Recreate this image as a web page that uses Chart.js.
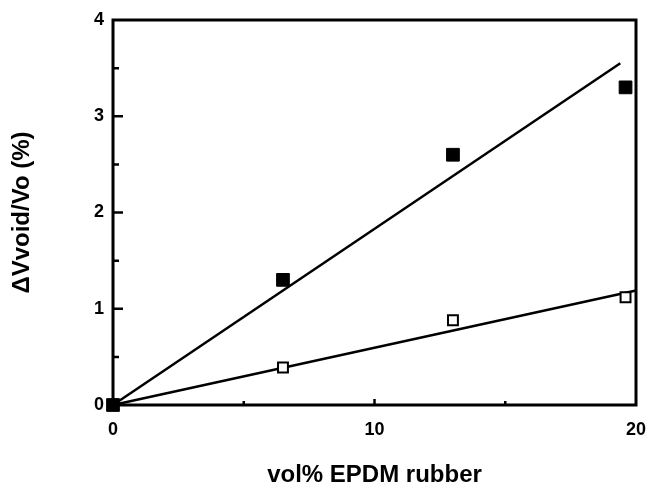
<!DOCTYPE html>
<html>
<head>
<meta charset="utf-8">
<script src="https://cdn.jsdelivr.net/npm/chart.js@4"></script>
<style>
  html, body { margin: 0; padding: 0; background: #fff; }
  #wrap { width: 646px; height: 487px; }
</style>
</head>
<body>
<div id="wrap"><canvas id="chart"></canvas></div>
<script>
const rubberVol = [0, 6.5, 13, 19.6]
const voidFilled = [0, 1.3, 2.6, 3.3]
const voidOpen = [0, 0.39, 0.88, 1.12]
const fitFilledX = [0, 19.4]
const fitFilledY = [0, 3.55]
const fitOpenX = [0, 20]
const fitOpenY = [0, 1.19]
const yMajorTicks = [1, 2, 3]
const yMinorTicks = [0.5, 1.5, 2.5, 3.5]
const xMajorTicks = [10]
const xMinorTicks = [5, 15]

const toPoints = (xs, ys) => xs.map((x, i) => ({ x: x, y: ys[i] }))

// box round the plot and the short inward tick marks
const frame = {
  id: 'frame',
  afterDraw(chart) {
    const { ctx, chartArea: a, scales } = chart
    ctx.save()
    ctx.strokeStyle = '#000'
    ctx.lineWidth = 3
    ctx.strokeRect(a.left, a.top, a.right - a.left, a.bottom - a.top)
    ctx.lineWidth = 2.5
    ctx.beginPath()
    yMajorTicks.forEach(v => {
      const y = scales.y.getPixelForValue(v)
      ctx.moveTo(a.left, y); ctx.lineTo(a.left + 10, y)
    })
    yMinorTicks.forEach(v => {
      const y = scales.y.getPixelForValue(v)
      ctx.moveTo(a.left, y); ctx.lineTo(a.left + 6, y)
    })
    xMajorTicks.forEach(v => {
      const x = scales.x.getPixelForValue(v)
      ctx.moveTo(x, a.bottom); ctx.lineTo(x, a.bottom - 6)
    })
    xMinorTicks.forEach(v => {
      const x = scales.x.getPixelForValue(v)
      ctx.moveTo(x, a.bottom); ctx.lineTo(x, a.bottom - 4)
    })
    ctx.stroke()
    ctx.restore()
  }
}

const tickFont = { family: 'Liberation Sans', size: 18, weight: 'bold' }
const titleFont = { family: 'Liberation Sans', size: 24, weight: 'bold', lineHeight: 1 }

// chart.js paints the first dataset on top, so filled squares come first
new Chart(document.getElementById('chart'), {
  type: 'scatter',
  data: {
    datasets: [
      {
        data: toPoints(rubberVol, voidFilled),
        pointStyle: 'rect',
        pointRadius: 9,
        backgroundColor: '#000',
        borderColor: '#000',
        borderWidth: 1,
        clip: false
      },
      {
        data: toPoints(rubberVol, voidOpen),
        pointStyle: 'rect',
        pointRadius: 7,
        backgroundColor: '#fff',
        borderColor: '#000',
        borderWidth: 2,
        clip: false
      },
      {
        data: toPoints(fitFilledX, fitFilledY),
        showLine: true,
        borderColor: '#000',
        borderWidth: 2.5,
        pointRadius: 0,
        clip: false
      },
      {
        data: toPoints(fitOpenX, fitOpenY),
        showLine: true,
        borderColor: '#000',
        borderWidth: 2.5,
        pointRadius: 0,
        clip: false
      }
    ]
  },
  options: {
    responsive: true,
    maintainAspectRatio: false,
    animation: false,
    layout: { padding: { left: 0, top: 20, right: 10, bottom: 0 } },
    plugins: {
      legend: { display: false },
      tooltip: { enabled: false }
    },
    scales: {
      x: {
        min: 0,
        max: 20,
        afterFit: scale => {
          scale.height = 82
          scale.paddingLeft = 0
          scale.paddingRight = 0
        },
        grid: { display: false, drawTicks: false },
        border: { display: false },
        ticks: { stepSize: 10, color: '#000', font: tickFont, padding: 14, maxRotation: 0 },
        title: { display: true, text: 'vol% EPDM rubber', color: '#000', font: titleFont, padding: { top: 0, bottom: 0 } }
      },
      y: {
        min: 0,
        max: 4,
        afterFit: scale => {
          scale.width = 113
          scale.paddingTop = 0
          scale.paddingBottom = 0
        },
        grid: { display: false, drawTicks: false },
        border: { display: false },
        ticks: { stepSize: 1, color: '#000', font: tickFont, padding: 9 },
        title: { display: true, text: 'ΔVvoid/Vo (%)', color: '#000', font: titleFont, padding: { top: 10, bottom: 0 } }
      }
    }
  },
  plugins: [frame]
})
</script>
</body>
</html>
